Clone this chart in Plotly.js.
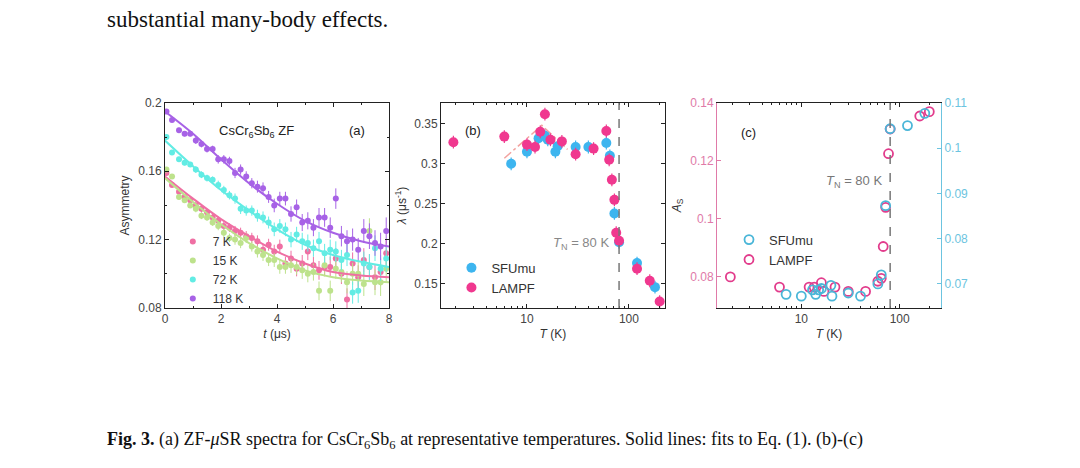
<!DOCTYPE html>
<html><head><meta charset="utf-8">
<script src="https://cdn.plot.ly/plotly-3.0.1.min.js"></script>
<style>html,body{margin:0;padding:0;background:#fff}#plot{width:1080px;height:468px}</style>
</head><body><div id="plot"></div>
<script>
"use strict";
// (a) ZF spectra
const tA = [0.05,0.25,0.5,0.7,0.9,1.1,1.3,1.5,1.7,1.9,2.1,2.3,2.5,2.7,2.9,3.1,3.3,3.5,3.7,3.9,4.1,4.3,4.5,4.7,4.9,5.1,5.3,5.5,5.7,5.9,6.1,6.3,6.5,6.7,6.9,7.1,7.3,7.5,7.7,7.9];
const errA = [0.001,0.001,0.0015,0.0015,0.0015,0.002,0.002,0.002,0.002,0.0025,0.0025,0.0025,0.003,0.003,0.003,0.003,0.0035,0.0035,0.0035,0.004,0.004,0.004,0.0045,0.0045,0.005,0.005,0.005,0.0055,0.0055,0.006,0.006,0.006,0.0065,0.0065,0.007,0.007,0.0075,0.0075,0.008,0.008];
const a7K = [0.159,0.152,0.148,0.145,0.143,0.140,0.138,0.136,0.133,0.131,0.128,0.127,0.125,0.124,0.122,0.121,0.119,0.114,0.117,0.113,0.116,0.106,0.109,0.103,0.106,0.113,0.105,0.102,0.104,0.104,0.109,0.100,0.085,0.106,0.098,0.108,0.104,0.098,0.101,0.112];
const a15K = [0.161,0.157,0.145,0.143,0.140,0.138,0.134,0.133,0.130,0.128,0.124,0.121,0.120,0.118,0.121,0.116,0.113,0.111,0.108,0.108,0.104,0.104,0.105,0.104,0.102,0.100,0.101,0.090,0.105,0.090,0.103,0.101,0.095,0.100,0.100,0.094,0.125,0.095,0.095,0.103];
const a72K = [0.180,0.171,0.167,0.165,0.164,0.161,0.158,0.156,0.155,0.152,0.149,0.146,0.144,0.138,0.137,0.137,0.134,0.133,0.130,0.126,0.128,0.126,0.120,0.123,0.119,0.118,0.115,0.119,0.112,0.114,0.113,0.108,0.111,0.089,0.090,0.106,0.104,0.115,0.103,0.109];
const a118K = [0.195,0.190,0.184,0.182,0.182,0.178,0.176,0.173,0.173,0.167,0.167,0.166,0.159,0.161,0.157,0.153,0.151,0.150,0.145,0.140,0.144,0.144,0.135,0.139,0.130,0.131,0.127,0.133,0.133,0.127,0.144,0.122,0.119,0.120,0.114,0.125,0.122,0.118,0.116,0.125];
const tFit = [0,1,2,3,4,5,6,7,8];
const fit7K = [0.157,0.144,0.132,0.122,0.113,0.106,0.101,0.099,0.098];
const fit15K = [0.156,0.142,0.129,0.118,0.109,0.102,0.098,0.096,0.095];
const fit72K = [0.178,0.163,0.149,0.137,0.126,0.117,0.111,0.107,0.104];
const fit118K = [0.195,0.182,0.167,0.153,0.141,0.131,0.124,0.119,0.116];
// (b) relaxation rate
const tSFUb = [7,10,13,15,16,19,20,30,40,60,65,72,80,120,180];
const lamSFU = [0.300,0.315,0.332,0.335,0.330,0.315,0.322,0.321,0.321,0.326,0.310,0.238,0.202,0.176,0.146];
const tLAMb = [1.9,6,10,12,13.5,15,17,22,30,45,60,64,68,72,75,80,120,160,200];
const lamLAM = [0.327,0.334,0.324,0.321,0.340,0.362,0.330,0.328,0.312,0.319,0.341,0.305,0.280,0.255,0.214,0.204,0.169,0.154,0.128];
const guideT = [6,14,25];
const guideLam = [0.307,0.348,0.318];
// (c) asymmetry
const tSFUc = [7,10,13,14,15,16,20,20.5,30,40,60,65,72,80,120,180];
const asSFU = [0.0677,0.0673,0.0687,0.0677,0.0687,0.069,0.0697,0.0673,0.068,0.0673,0.070,0.072,0.0873,0.1043,0.105,0.1077];
const tLAMc = [1.9,6,12,13.5,16,17,22,30,45,60,65,68,72,77,80,160,200];
const asLAM = [0.080,0.0765,0.0765,0.0765,0.078,0.075,0.0765,0.075,0.075,0.0785,0.0795,0.0905,0.104,0.1225,0.131,0.1355,0.137];
const TN = 80;

const PINK_A = "#ef6fa3", GREEN_A = "#bde28c", CYAN_A = "#62ece4", PURPLE_A = "#a762e6";
const BLUE = "#3db5ef", MAG = "#f0388f";
const font = { family: "Liberation Sans, Arial, sans-serif", size: 12, color: "#333" };

const traces = [];
const seriesA = [[a7K, fit7K, PINK_A, "7 K"], [a15K, fit15K, GREEN_A, "15 K"], [a72K, fit72K, CYAN_A, "72 K"], [a118K, fit118K, PURPLE_A, "118 K"]];
seriesA.forEach(([y, f, c, n]) => {
  traces.push({ x: tA, y, type: "scatter", mode: "markers", name: n, legend: "legend",
    marker: { color: c, size: 6 }, error_y: { type: "data", array: errA, color: c, thickness: 1, width: 0 }, xaxis: "x", yaxis: "y" });
});
seriesA.forEach(([y, f, c]) => {
  traces.push({ x: tFit, y: f, type: "scatter", mode: "lines", line: { color: c, width: 2, shape: "spline" },
    showlegend: false, xaxis: "x", yaxis: "y", hoverinfo: "skip" });
});
traces.push({ x: guideT, y: guideLam, type: "scatter", mode: "lines", line: { color: "#f2a3a0", width: 1.5, dash: "dashdot" },
  showlegend: false, xaxis: "x2", yaxis: "y2" });
traces.push({ x: tSFUb, y: lamSFU, type: "scatter", mode: "markers", name: "SFUmu", legend: "legend2",
  marker: { color: BLUE, size: 10 }, error_y: { type: "constant", value: 0.008, color: BLUE, thickness: 1.2, width: 0 }, xaxis: "x2", yaxis: "y2" });
traces.push({ x: tLAMb, y: lamLAM, type: "scatter", mode: "markers", name: "LAMPF", legend: "legend2",
  marker: { color: MAG, size: 10 }, error_y: { type: "constant", value: 0.008, color: MAG, thickness: 1.2, width: 0 }, xaxis: "x2", yaxis: "y2" });
traces.push({ x: tSFUc, y: asSFU, type: "scatter", mode: "markers", name: "SFUmu", legend: "legend3",
  marker: { color: "rgba(0,0,0,0)", size: 9, line: { color: "#4ab6d8", width: 1.8 } }, xaxis: "x3", yaxis: "y4" });
traces.push({ x: tLAMc, y: asLAM, type: "scatter", mode: "markers", name: "LAMPF", legend: "legend3",
  marker: { color: "rgba(0,0,0,0)", size: 9, line: { color: "#e23c8c", width: 1.8 } }, xaxis: "x3", yaxis: "y3" });

const yDom = [0.342, 0.780];
const ax = { showline: true, linecolor: "#222", linewidth: 1, mirror: "ticks", ticks: "inside", ticklen: 4,
  tickcolor: "#222", showgrid: false, zeroline: false, tickfont: { size: 12, color: "#444" } };
const logMinor = { ticks: "inside", ticklen: 2, tickcolor: "#222", tickmode: "array",
  tickvals: [2,3,4,5,6,7,8,9,20,30,40,50,60,70,80,90,200] };
const tn = (xa, ya) => ({ type: "line", xref: xa, yref: ya + " domain", x0: TN, x1: TN, y0: 0, y1: 1,
  line: { color: "#777", width: 1.5, dash: "dash" } });

const legBase = { bgcolor: "rgba(0,0,0,0)", font: { size: 13, color: "#333" }, itemwidth: 30, tracegroupgap: 0 };
const layout = {
  width: 1080, height: 468, margin: { l: 0, r: 0, t: 0, b: 0 }, paper_bgcolor: "#fff", plot_bgcolor: "#fff",
  font, showlegend: true,
  xaxis: { ...ax, domain: [0.1528, 0.3602], range: [0, 8], dtick: 2, minor: { ticks: "inside", ticklen: 2, dtick: 1, tickcolor: "#222" },
    anchor: "y", title: { text: "<i>t</i> (μs)", font: { size: 12 }, standoff: 4 } },
  yaxis: { ...ax, domain: yDom, range: [0.08, 0.2], dtick: 0.04, minor: { ticks: "inside", ticklen: 2, dtick: 0.02, tickcolor: "#222" },
    anchor: "x", title: { text: "Asymmetry", font: { size: 12 }, standoff: 6 } },
  xaxis2: { ...ax, type: "log", domain: [0.4083, 0.6157], range: [0.157, 2.353], tickvals: [10, 100], minor: logMinor,
    anchor: "y2", title: { text: "<i>T</i> (K)", font: { size: 12 }, standoff: 4 } },
  yaxis2: { ...ax, domain: yDom, range: [0.12, 0.376], dtick: 0.05, tickformat: "~g", anchor: "x2",
    title: { text: "<i>λ</i> (μs<sup>-1</sup>)", font: { size: 12 }, standoff: 4 } },
  xaxis3: { ...ax, type: "log", domain: [0.6639, 0.8713], range: [0.143, 2.42], tickvals: [10, 100], minor: logMinor,
    anchor: "y3", title: { text: "<i>T</i> (K)", font: { size: 12 }, standoff: 4 } },
  yaxis3: { ...ax, mirror: false, linecolor: "#e07aa8", tickcolor: "#e07aa8", domain: yDom, range: [0.0693, 0.14], dtick: 0.02,
    tickformat: "~g", tickfont: { size: 12, color: "#e07aa8" }, anchor: "x3",
    title: { text: "<i>A</i><sub>S</sub>", font: { size: 12, color: "#333" }, standoff: 6 } },
  yaxis4: { ...ax, mirror: false, overlaying: "y3", side: "right", anchor: "x3", linecolor: "#6cc4e0", tickcolor: "#6cc4e0",
    range: [0.0647, 0.11], dtick: 0.01, tickformat: "~g", tickfont: { size: 12, color: "#6cc4e0" } },
  legend: { ...legBase, font: { size: 12, color: "#333" }, x: 0.160, y: 0.515, xanchor: "left", yanchor: "top" },
  legend2: { ...legBase, x: 0.418, y: 0.46, xanchor: "left", yanchor: "top" },
  legend3: { ...legBase, x: 0.675, y: 0.52, xanchor: "left", yanchor: "top" },
  shapes: [tn("x2", "y2"), tn("x3", "y3")],
  annotations: [
    { text: "substantial many-body effects.", xref: "paper", yref: "paper", x: 0.097, y: 1 - 20 / 468, xanchor: "left", yanchor: "middle",
      showarrow: false, font: { family: "Liberation Serif, Times New Roman, serif", size: 23, color: "#111" } },
    { text: "<b>Fig. 3.</b> (a) ZF-<i>μ</i>SR spectra for CsCr<sub>6</sub>Sb<sub>6</sub> at representative temperatures. Solid lines: fits to Eq. (1). (b)-(c)",
      xref: "paper", yref: "paper", x: 0.097, y: 1 - 440 / 468, xanchor: "left", yanchor: "middle", showarrow: false,
      font: { family: "Liberation Serif, Times New Roman, serif", size: 18, color: "#111" } },
    { text: "CsCr<sub>6</sub>Sb<sub>6</sub> ZF", xref: "x domain", yref: "y domain", x: 0.41, y: 0.91, showarrow: false, font: { size: 13, color: "#222" } },
    { text: "(a)", xref: "x domain", yref: "y domain", x: 0.90, y: 0.91, showarrow: false, font: { size: 13, color: "#222" } },
    { text: "(b)", xref: "x2 domain", yref: "y2 domain", x: 0.10, y: 0.91, showarrow: false, font: { size: 13, color: "#222" } },
    { text: "(c)", xref: "x3 domain", yref: "y3 domain", x: 0.10, y: 0.90, showarrow: false, font: { size: 13, color: "#222" } },
    { text: "<i>T</i><sub>N</sub> = 80 K", xref: "x2", yref: "y2", x: Math.log10(TN), y: 0.2, xanchor: "right", xshift: -8,
      showarrow: false, font: { size: 13, color: "#888" } },
    { text: "<i>T</i><sub>N</sub> = 80 K", xref: "x3", yref: "y3", x: Math.log10(TN), y: 0.113, xanchor: "right", xshift: -6,
      showarrow: false, font: { size: 13, color: "#777" } }
  ]
};
Plotly.newPlot("plot", traces, layout, { staticPlot: true });
</script></body></html>
